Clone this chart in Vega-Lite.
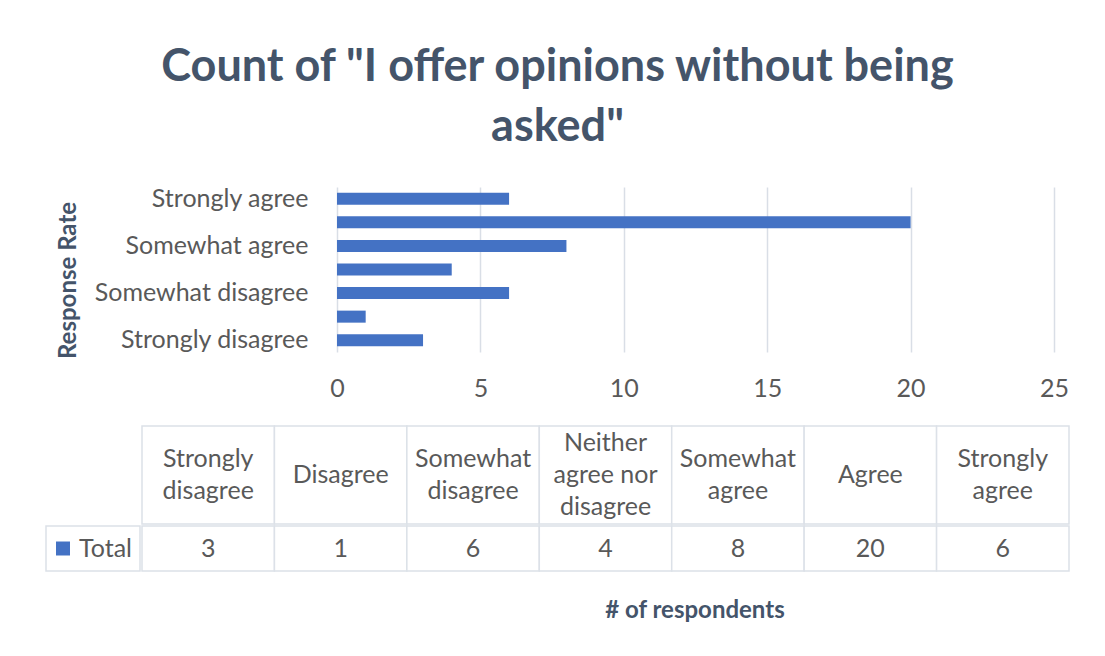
{
  "$schema": "https://vega.github.io/schema/vega-lite/v6.json",
  "background": "white",
  "padding": {"left": 45, "top": 44, "right": 30, "bottom": 10},
  "datasets": {
    "responses": [
      {"response": "Strongly disagree", "count": 3, "header": "Strongly\ndisagree"},
      {"response": "Disagree", "count": 1, "header": "Disagree"},
      {"response": "Somewhat disagree", "count": 6, "header": "Somewhat\ndisagree"},
      {"response": "Neither agree nor disagree", "count": 4, "header": "Neither\nagree nor\ndisagree"},
      {"response": "Somewhat agree", "count": 8, "header": "Somewhat\nagree"},
      {"response": "Agree", "count": 20, "header": "Agree"},
      {"response": "Strongly agree", "count": 6, "header": "Strongly\nagree"}
    ],
    "series": [{"series": "Total"}]
  },
  "title": {
    "text": ["Count of \"I offer opinions without being", "asked\""],
    "fontSize": 45,
    "fontWeight": "bold",
    "color": "#44546A",
    "anchor": "middle",
    "lineHeight": 60,
    "offset": 37
  },
  "spacing": 24,
  "vconcat": [
    {
      "bounds": "flush",
      "spacing": 0,
      "hconcat": [
        {
          "width": 290.5,
          "height": 165,
          "data": {"name": "responses"},
          "transform": [{"filter": {"field": "response", "oneOf": ["Strongly agree", "Somewhat agree", "Somewhat disagree", "Strongly disagree"]}}],
          "mark": {"type": "text", "align": "right", "baseline": "middle", "dx": -28, "fontSize": 25, "color": "#595959"},
          "encoding": {
            "x": {"value": "width"},
            "y": {
              "field": "response",
              "type": "nominal",
              "scale": {
                "domain": ["Strongly agree", "Agree", "Somewhat agree", "Neither agree nor disagree", "Somewhat disagree", "Disagree", "Strongly disagree"],
                "paddingInner": 0.49,
                "paddingOuter": 0.245
              },
              "axis": {
                "title": "Response Rate",
                "labels": false,
                "ticks": false,
                "domain": false,
                "grid": false,
                "minExtent": 0,
                "maxExtent": 0,
                "offset": -34.5,
                "titlePadding": 0,
                "titleY": 93,
                "titleFontSize": 24,
                "titleFontWeight": "bold",
                "titleColor": "#44546A"
              }
            },
            "text": {"field": "response"}
          }
        },
        {
          "width": 717,
          "height": 165,
          "data": {"name": "responses"},
          "mark": {"type": "bar", "color": "#4472C4"},
          "encoding": {
            "y": {
              "field": "response",
              "type": "nominal",
              "sort": ["Strongly agree", "Agree", "Somewhat agree", "Neither agree nor disagree", "Somewhat disagree", "Disagree", "Strongly disagree"],
              "scale": {"paddingInner": 0.49, "paddingOuter": 0.245},
              "axis": null
            },
            "x": {
              "field": "count",
              "type": "quantitative",
              "scale": {"domain": [0, 25], "nice": false},
              "axis": {
                "title": null,
                "values": [0, 5, 10, 15, 20, 25],
                "grid": true,
                "gridColor": "#D9DEE6",
                "gridWidth": 1.5,
                "ticks": false,
                "domain": false,
                "labelFlush": false,
                "labelPadding": 24,
                "labelFontSize": 25,
                "labelColor": "#595959"
              }
            }
          }
        }
      ]
    },
    {
      "columns": 2,
      "spacing": 0,
      "title": {
        "text": "# of respondents",
        "orient": "bottom",
        "anchor": "middle",
        "dx": 137.5,
        "offset": 27,
        "fontSize": 24,
        "fontWeight": "bold",
        "color": "#44546A"
      },
      "concat": [
        {
          "width": 94,
          "height": 98,
          "data": {"name": "series"},
          "mark": {"type": "text", "text": ""},
          "encoding": {}
        },
        {
          "width": 927,
          "height": 98,
          "data": {"name": "responses"},
          "encoding": {
            "x": {
              "field": "response",
              "type": "nominal",
              "sort": ["Strongly disagree", "Disagree", "Somewhat disagree", "Neither agree nor disagree", "Somewhat agree", "Agree", "Strongly agree"],
              "scale": {"paddingInner": 0, "paddingOuter": 0},
              "axis": null
            }
          },
          "layer": [
            {
              "mark": {"type": "rect", "fill": "white", "stroke": "#DCE1E8", "strokeWidth": 1.5}
            },
            {
              "transform": [{"filter": "indexof(datum.header, '\\n') < 0"}],
              "mark": {"type": "text", "lineBreak": "\n", "lineHeight": 32, "fontSize": 25, "color": "#595959", "baseline": "middle"},
              "encoding": {"text": {"field": "header"}}
            },
            {
              "transform": [{"filter": "indexof(datum.header, '\\n') >= 0 && indexof(datum.header, '\\n') == lastindexof(datum.header, '\\n')"}],
              "mark": {"type": "text", "lineBreak": "\n", "lineHeight": 32, "fontSize": 25, "color": "#595959", "baseline": "middle", "dy": -16},
              "encoding": {"text": {"field": "header"}}
            },
            {
              "transform": [{"filter": "indexof(datum.header, '\\n') != lastindexof(datum.header, '\\n')"}],
              "mark": {"type": "text", "lineBreak": "\n", "lineHeight": 32, "fontSize": 25, "color": "#595959", "baseline": "middle", "dy": -32},
              "encoding": {"text": {"field": "header"}}
            }
          ]
        },
        {
          "width": 94,
          "height": 45,
          "data": {"name": "series"},
          "view": {"stroke": "#DCE1E8", "strokeWidth": 1.5},
          "layer": [
            {
              "mark": {"type": "point", "shape": "square", "filled": true, "color": "#4472C4", "opacity": 1, "size": 196, "xOffset": -30},
              "encoding": {}
            },
            {
              "mark": {"type": "text", "align": "left", "dx": -14, "fontSize": 25, "color": "#595959", "baseline": "middle"},
              "encoding": {"text": {"field": "series"}}
            }
          ]
        },
        {
          "width": 927,
          "height": 45,
          "data": {"name": "responses"},
          "encoding": {
            "x": {
              "field": "response",
              "type": "nominal",
              "sort": ["Strongly disagree", "Disagree", "Somewhat disagree", "Neither agree nor disagree", "Somewhat agree", "Agree", "Strongly agree"],
              "scale": {"paddingInner": 0, "paddingOuter": 0},
              "axis": null
            }
          },
          "layer": [
            {
              "mark": {"type": "rect", "fill": "white", "stroke": "#DCE1E8", "strokeWidth": 1.5}
            },
            {
              "mark": {"type": "text", "fontSize": 25, "color": "#595959", "baseline": "middle"},
              "encoding": {"text": {"field": "count"}}
            }
          ]
        }
      ]
    }
  ],
  "config": {
    "font": "Lato",
    "view": {"stroke": null}
  }
}
